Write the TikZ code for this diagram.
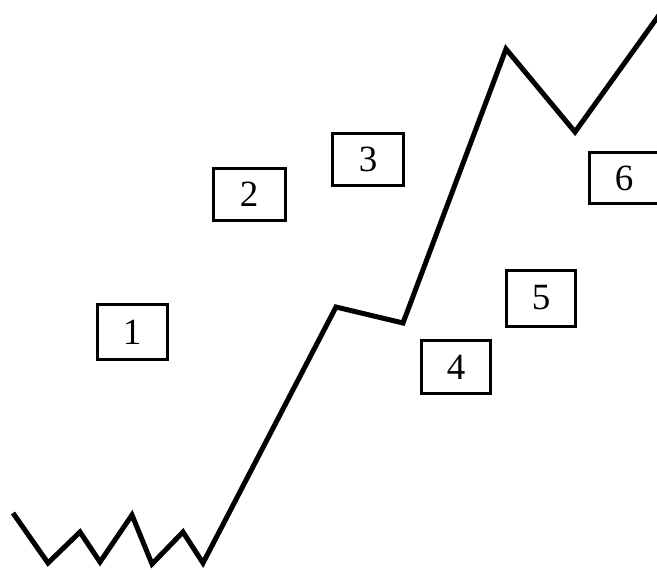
\documentclass[tikz,border=0pt]{standalone}
\usepackage{fontspec}
\setmainfont{Liberation Serif}
\begin{document}
\begin{tikzpicture}[x=1pt,y=-1pt,
  numbox/.style={draw=black,line width=3pt,rectangle,inner sep=0pt,
    minimum width=#1,minimum height=53pt,font=\fontsize{37}{37}\selectfont},
  numbox/.default=70pt,
  trail/.style={draw=black,line width=5pt,line join=miter,line cap=butt}]
\useasboundingbox (0,0) rectangle (657,570);
\clip (0,0) rectangle (657,570);
\fill[white] (0,0) rectangle (657,570);
% path points
\coordinate (p0) at (13,513);
\coordinate (p1) at (48,563);
\coordinate (p2) at (80,532);
\coordinate (p3) at (100,562);
\coordinate (p4) at (132,515);
\coordinate (p5) at (152,564);
\coordinate (p6) at (183,532);
\coordinate (p7) at (203,563);
\coordinate (p8) at (336,307);
\coordinate (p9) at (403,323);
\coordinate (p10) at (506,49);
\coordinate (p11) at (575,132);
\coordinate (p12) at (667,4);
\draw[trail] (p0) -- (p1) -- (p2) -- (p3) -- (p4) -- (p5) -- (p6) -- (p7)
  -- (p8) -- (p9) -- (p10) -- (p11) -- (p12);
% boxes
\node[numbox,minimum height=55pt] (b1) at (132,332) {1};
\node[numbox,minimum width=72pt,minimum height=52pt] (b2) at (249,194) {2};
\node[numbox,minimum width=71pt,minimum height=52pt] (b3) at (368,159) {3};
\node[numbox,minimum width=69pt] (b4) at (456,367) {4};
\node[numbox,minimum width=69pt,minimum height=56pt] (b5) at (541,298) {5};
\node[numbox,minimum height=51pt] (b6) at (624,178) {6};
\end{tikzpicture}
\end{document}
